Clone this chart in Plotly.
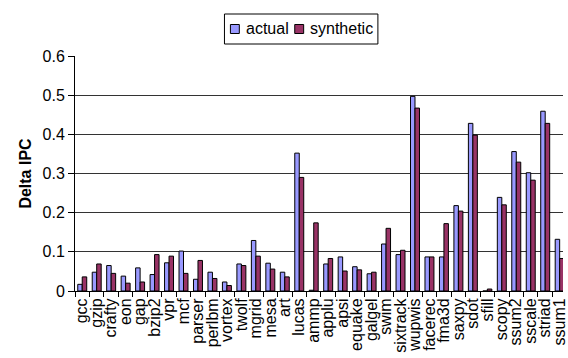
import plotly.graph_objects as go

benchmarks = ["gcc", "gzip", "crafty", "eon", "gap", "bzip2", "vpr", "mcf", "parser",
              "perlbm", "vortex", "twolf", "mgrid", "mesa", "art", "lucas", "ammp",
              "applu", "apsi", "equake", "galgel", "swim", "sixtrack", "wupwis",
              "facerec", "fma3d", "saxpy", "sdot", "sfill", "scopy", "ssum2",
              "sscale", "striad", "ssum1"]

actual = [0.017, 0.048, 0.065, 0.038, 0.059, 0.042, 0.072, 0.102, 0.030,
          0.048, 0.023, 0.069, 0.129, 0.071, 0.048, 0.352, 0.002,
          0.069, 0.087, 0.062, 0.044, 0.120, 0.093, 0.497,
          0.087, 0.087, 0.218, 0.428, 0.0, 0.239, 0.356,
          0.302, 0.459, 0.132]

synthetic = [0.036, 0.069, 0.045, 0.020, 0.023, 0.093, 0.089, 0.045, 0.078,
             0.032, 0.014, 0.065, 0.089, 0.056, 0.036, 0.290, 0.174,
             0.083, 0.051, 0.054, 0.048, 0.160, 0.104, 0.467,
             0.087, 0.172, 0.204, 0.398, 0.005, 0.220, 0.329,
             0.283, 0.428, 0.083]

series_names = ["actual", "synthetic"]
series_colors = ["#9999FF", "#993366"]

y_ticks = [0, 0.1, 0.2, 0.3, 0.4, 0.5, 0.6]
y_tick_text = ["0", "0.1", "0.2", "0.3", "0.4", "0.5", "0.6"]

FONT = "Liberation Sans, Arial, sans-serif"
FS = 16

# plot-area geometry in pixels (used for the hand-built legend box)
W, H = 568, 358
ML, MT, MB = 75, 56, 67
PW, PH = W - ML, H - MT - MB


def px_x(p):
    return (p - ML) / PW


def px_y(p):
    return 1 - (p - MT) / PH


fig = go.Figure()
for name, vals, col in zip(series_names, [actual, synthetic], series_colors):
    fig.add_trace(go.Bar(name=name, x=benchmarks, y=vals, showlegend=False,
                         marker=dict(color=col, line=dict(color="#000000", width=1))))

# legend: framed box with two swatches and labels
shapes = [dict(type="rect", xref="paper", yref="paper",
               x0=px_x(226), x1=px_x(381), y0=px_y(44), y1=px_y(14),
               line=dict(color="#000000", width=1), fillcolor="white")]
annotations = []
legend_items = [(232, 246), (297, 310)]
for (sx, tx), name, col in zip(legend_items, series_names, series_colors):
    shapes.append(dict(type="rect", xref="paper", yref="paper",
                       x0=px_x(sx), x1=px_x(sx + 9), y0=px_y(33.5), y1=px_y(24.5),
                       line=dict(color="#000000", width=1), fillcolor=col))
    annotations.append(dict(text=name, xref="paper", yref="paper",
                            x=px_x(tx), y=px_y(29), xanchor="left", yanchor="middle",
                            showarrow=False, font=dict(family=FONT, size=FS, color="#000000")))

fig.update_layout(
    width=W, height=H,
    margin=dict(l=ML, r=0, t=MT, b=MB),
    paper_bgcolor="white", plot_bgcolor="white",
    barmode="group", bargap=0.38, bargroupgap=0.0,
    font=dict(family=FONT, size=FS, color="#000000"),
    showlegend=False,
    shapes=shapes,
    annotations=annotations,
    xaxis=dict(type="category", range=[-0.5, 33.23], tickson="boundaries",
               tickmode="array", tickvals=benchmarks, ticktext=benchmarks,
               ticks="outside", ticklen=5, tickcolor="#000000",
               showline=True, linecolor="#000000", linewidth=1,
               tickangle=-90, tickfont=dict(size=FS), showgrid=False),
    yaxis=dict(range=[0, 0.6], tickvals=y_ticks, ticktext=y_tick_text,
               ticks="outside", ticklen=6, tickcolor="#000000",
               showline=True, linecolor="#000000", linewidth=1,
               showgrid=True, gridcolor="#333333", gridwidth=1,
               tickfont=dict(size=FS),
               title=dict(text="<b>Delta IPC</b>", font=dict(size=FS), standoff=6)),
)

fig.write_html("out.html")
